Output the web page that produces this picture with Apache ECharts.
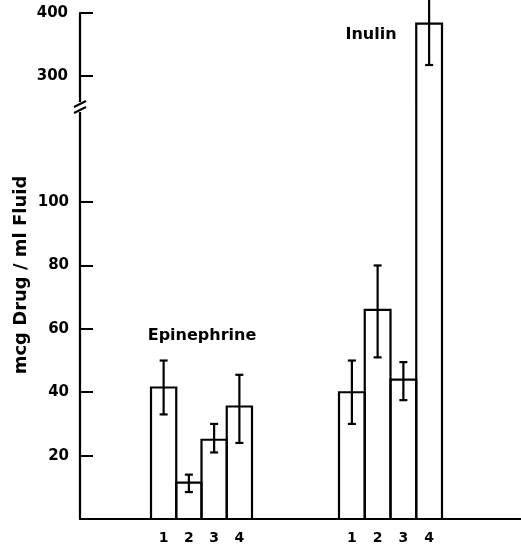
<!DOCTYPE html>
<html>
<head>
<meta charset="utf-8">
<script src="https://cdn.jsdelivr.net/npm/echarts@6/dist/echarts.min.js"></script>
<style>html,body{margin:0;padding:0;background:#fff}#c{width:521px;height:550px}</style>
</head>
<body>
<div id="c"></div>
<script>
// ---- data ----
var categories = ['1', '2', '3', '4'];
var epiMeans = [41.5, 11.5, 25, 35.5];
var epiLow = [33, 8.5, 21, 24];
var epiHigh = [50, 14, 30, 45.5];
var inulinMeans = [40, 66, 44, 383];
var inulinLow = [30, 51, 37.5, 317];
var inulinHigh = [50, 80, 49.5, 449];
var lowerTicks = [20, 40, 60, 80, 100];
var upperTicks = [300, 400];
var lowerRange = [0, 130];
var upperRange = [250, 400];

var FONT = 'DejaVu Sans';
var chart = echarts.init(document.getElementById('c'), null, {renderer: 'canvas'});

function barRender(params, api) {
  var i = api.value(0), v = api.value(1);
  var cs = params.coordSys;
  var top = cs.y, bottom = cs.y + cs.height;
  var p = api.coord([i, v]);
  var w = api.size([1, 0])[0];
  var l = p[0] - w / 2, r = p[0] + w / 2;
  var style = {stroke: '#000', lineWidth: 2.2, fill: null};
  if (p[1] >= bottom) return null;
  if (p[1] < top) {
    return {type: 'group', children: [
      {type: 'line', shape: {x1: l, y1: bottom, x2: l, y2: top}, style: style},
      {type: 'line', shape: {x1: r, y1: bottom, x2: r, y2: top}, style: style}
    ]};
  }
  return {type: 'polyline', shape: {points: [[l, bottom], [l, p[1]], [r, p[1]], [r, bottom]]}, style: style};
}

function errRender(params, api) {
  var i = api.value(0), lo = api.value(1), hi = api.value(2);
  var cs = params.coordSys;
  var bottom = cs.y + cs.height;
  var a = api.coord([i, lo]), b = api.coord([i, hi]);
  if (a[1] > bottom + 1) return null;
  var style = {stroke: '#000', lineWidth: 2.2};
  var cw = 4;
  return {type: 'group', children: [
    {type: 'line', shape: {x1: a[0], y1: a[1], x2: b[0], y2: b[1]}, style: style},
    {type: 'line', shape: {x1: a[0] - cw, y1: a[1], x2: a[0] + cw, y2: a[1]}, style: style},
    {type: 'line', shape: {x1: b[0] - cw, y1: b[1], x2: b[0] + cw, y2: b[1]}, style: style}
  ]};
}

function barData(means) { return means.map(function (m, i) { return [i, m]; }); }
function errData(lo, hi) { return lo.map(function (l, i) { return [i, l, hi[i]]; }); }

var axisLine = {show: true, lineStyle: {color: '#000', width: 2.2}};
var labelStyle = {color: '#000', fontFamily: FONT, fontWeight: 'bold', fontSize: 15};
var catLabel = {color: '#000', fontFamily: FONT, fontWeight: 'bold', fontSize: 14, margin: 12};

var option = {
  animation: false,
  backgroundColor: '#fff',
  grid: [
    {left: 80, right: 0, top: 13, height: 94},     // 0 upper axis
    {left: 80, right: 0, top: 107, height: 412},   // 1 lower axis
    {left: 151, width: 101, top: 107, height: 412},// 2 epi lower
    {left: 339, width: 103, top: 107, height: 412},// 3 inulin lower
    {left: 339, width: 103, top: 13, height: 94}   // 4 inulin upper
  ],
  xAxis: [
    {gridIndex: 0, type: 'value', show: false, min: 0, max: 1},
    {gridIndex: 1, type: 'value', min: 0, max: 1, axisLine: axisLine, axisTick: {show: false}, axisLabel: {show: false}, splitLine: {show: false}},
    {gridIndex: 2, type: 'category', data: categories, axisLine: {show: false}, axisTick: {show: false}, axisLabel: catLabel},
    {gridIndex: 3, type: 'category', data: categories, axisLine: {show: false}, axisTick: {show: false}, axisLabel: catLabel},
    {gridIndex: 4, type: 'category', data: categories, show: false}
  ],
  yAxis: [
    {gridIndex: 0, type: 'value', min: upperRange[0], max: upperRange[1], axisLine: axisLine,
      axisTick: {show: true, inside: true, length: 13, lineStyle: {width: 2, color: '#000'}, customValues: upperTicks},
      axisLabel: Object.assign({margin: 12, customValues: upperTicks}, labelStyle), splitLine: {show: false}},
    {gridIndex: 1, type: 'value', min: lowerRange[0], max: lowerRange[1], axisLine: axisLine,
      axisTick: {show: true, inside: true, length: 13, lineStyle: {width: 2, color: '#000'}, customValues: lowerTicks},
      axisLabel: Object.assign({margin: 11, customValues: lowerTicks}, labelStyle), splitLine: {show: false}},
    {gridIndex: 2, type: 'value', min: lowerRange[0], max: lowerRange[1], show: false},
    {gridIndex: 3, type: 'value', min: lowerRange[0], max: lowerRange[1], show: false},
    {gridIndex: 4, type: 'value', min: upperRange[0], max: upperRange[1], show: false}
  ],
  series: [
    {type: 'custom', xAxisIndex: 2, yAxisIndex: 2, data: barData(epiMeans), renderItem: barRender, clip: false, z: 2},
    {type: 'custom', xAxisIndex: 3, yAxisIndex: 3, data: barData(inulinMeans), renderItem: barRender, clip: false, z: 2},
    {type: 'custom', xAxisIndex: 4, yAxisIndex: 4, data: barData(inulinMeans), renderItem: barRender, clip: false, z: 2},
    {type: 'custom', xAxisIndex: 2, yAxisIndex: 2, data: errData(epiLow, epiHigh), renderItem: errRender, clip: false, z: 3},
    {type: 'custom', xAxisIndex: 3, yAxisIndex: 3, data: errData(inulinLow.slice(0, 3), inulinHigh.slice(0, 3)), renderItem: errRender, clip: false, z: 3},
    {type: 'custom', xAxisIndex: 4, yAxisIndex: 4, data: errData(inulinLow, inulinHigh).filter(function (d) { return d[1] >= upperRange[0]; }), renderItem: errRender, clip: false, z: 3}
  ],
  graphic: [
    {type: 'rect', shape: {x: 72, y: 102, width: 16, height: 10}, style: {fill: '#fff'}, z: 100},
    {type: 'line', shape: {x1: 74, y1: 107, x2: 86, y2: 101}, style: {stroke: '#000', lineWidth: 2}, z: 101},
    {type: 'line', shape: {x1: 74, y1: 113, x2: 86, y2: 107}, style: {stroke: '#000', lineWidth: 2}, z: 101},
    {type: 'text', x: 202, y: 336, z: 101, style: {text: 'Epinephrine', font: 'bold 16px "DejaVu Sans"', fill: '#000', align: 'center', verticalAlign: 'middle'}},
    {type: 'text', x: 371, y: 35, z: 101, style: {text: 'Inulin', font: 'bold 16px "DejaVu Sans"', fill: '#000', align: 'center', verticalAlign: 'middle'}},
    {type: 'text', x: 21, y: 275, rotation: Math.PI / 2, z: 101, style: {text: 'mcg Drug / ml Fluid', font: 'bold 18px "DejaVu Sans"', fill: '#000', align: 'center', verticalAlign: 'middle'}}
  ]
};
chart.setOption(option);
</script>
</body>
</html>
